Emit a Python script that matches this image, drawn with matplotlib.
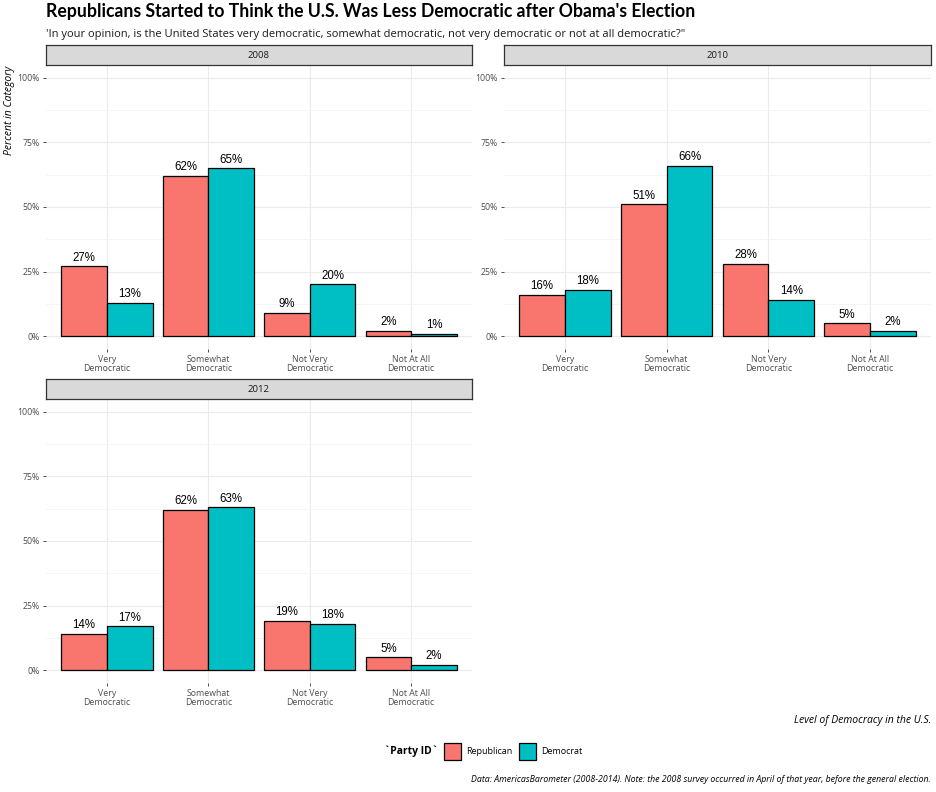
import matplotlib
matplotlib.use("Agg")
import matplotlib.pyplot as plt
from matplotlib.patches import Rectangle
from matplotlib import font_manager
import numpy as np

categories = ["Very\nDemocratic", "Somewhat\nDemocratic", "Not Very\nDemocratic", "Not At All\nDemocratic"]
years = ["2008", "2010", "2012"]
republican = {"2008": [27, 62, 9, 2], "2010": [16, 51, 28, 5], "2012": [14, 62, 19, 5]}
democrat = {"2008": [13, 65, 20, 1], "2010": [18, 66, 14, 2], "2012": [17, 63, 18, 2]}
yticks = [0, 25, 50, 75, 100]
ytick_labels = ["0%", "25%", "50%", "75%", "100%"]

RED = "#F8766D"
CYAN = "#00BFC4"
W, H = 936, 792
fig = plt.figure(figsize=(W / 100, H / 100), dpi=100)
SANS = "Open Sans"

# bar-label font: Liberation Sans Regular (Arial metrics)
lab_fp = None
for f in font_manager.findSystemFonts():
    if f.endswith("LiberationSans-Regular.ttf"):
        lab_fp = font_manager.FontProperties(fname=f, size=8.3)
        break
if lab_fp is None:
    lab_fp = font_manager.FontProperties(family="Liberation Sans", size=8.3)

def fx(px):
    return px / W

def fy(py):
    return 1 - py / H

panels = {
    "2008": (46, 472, 65, 349),
    "2010": (504, 931, 65, 349),
    "2012": (46, 472, 399, 683),
}

for yr in years:
    l, r, t, b = panels[yr]
    ax = fig.add_axes([fx(l), fy(b), fx(r - l), (b - t) / H])
    x = np.arange(len(categories))
    w = 0.45
    ax.bar(x - w / 2, republican[yr], width=w, color=RED, edgecolor="black", linewidth=0.9, zorder=3)
    ax.bar(x + w / 2, democrat[yr], width=w, color=CYAN, edgecolor="black", linewidth=0.9, zorder=3)
    for xi, v in zip(x - w / 2, republican[yr]):
        ax.text(xi, v + 1.0, f"{v}%", ha="center", va="bottom", fontproperties=lab_fp,
                color="black", zorder=4)
    for xi, v in zip(x + w / 2, democrat[yr]):
        ax.text(xi, v + 1.0, f"{v}%", ha="center", va="bottom", fontproperties=lab_fp,
                color="black", zorder=4)
    ax.set_xlim(-0.6, len(categories) - 0.4)
    ax.set_ylim(-5, 105)
    ax.set_xticks(x)
    ax.set_xticklabels(categories, fontsize=6.3, family=SANS, color="#4d4d4d", linespacing=0.95)
    ax.set_yticks(yticks)
    ax.set_yticklabels(ytick_labels, fontsize=6.3, family=SANS, color="#4d4d4d")
    ax.set_yticks([12.5, 37.5, 62.5, 87.5], minor=True)
    ax.tick_params(axis="both", which="major", length=2.5, width=0.6, color="#333333", pad=2)
    ax.tick_params(axis="both", which="minor", length=0)
    ax.grid(True, which="major", color="#ebebeb", linewidth=0.8, zorder=0)
    ax.grid(True, which="minor", axis="y", color="#f2f2f2", linewidth=0.5, zorder=0)
    for s in ax.spines.values():
        s.set_visible(False)
    ax.set_facecolor("white")
    # strip
    sax = fig.add_axes([fx(l), fy(t), fx(r - l), 20 / H])
    sax.set_xticks([])
    sax.set_yticks([])
    sax.set_facecolor("#d9d9d9")
    for s in sax.spines.values():
        s.set_color("#333333")
        s.set_linewidth(0.9)
    sax.text(0.5, 0.5, yr, ha="center", va="center", fontsize=6.8, family=SANS,
             color="#1a1a1a", transform=sax.transAxes)

fig.text(fx(46), fy(12), "Republicans Started to Think the U.S. Was Less Democratic after Obama's Election",
         fontsize=12.7, fontweight="bold", family="Lato", ha="left", va="center", color="black")
fig.text(fx(46), fy(34), "'In your opinion, is the United States very democratic, somewhat democratic, not very democratic or not at all democratic?\"",
         fontsize=8.0, family=SANS, ha="left", va="center", color="#1a1a1a")
fig.text(fx(10), fy(66), "Percent in Category", rotation=90, fontsize=7.5, family=SANS,
         style="italic", ha="center", va="top", color="black")
fig.text(fx(931), fy(720), "Level of Democracy in the U.S.", fontsize=7.5, family=SANS,
         style="italic", ha="right", va="center", color="black")
fig.text(fx(931), fy(780), "Data: AmericasBarometer (2008-2014). Note: the 2008 survey occurred in April of that year, before the general election.",
         fontsize=6.3, family=SANS, style="italic", ha="right", va="center", color="black")

# legend
fig.text(fx(438), fy(751), "`Party ID`", fontsize=7.5, family=SANS, fontweight="bold",
         ha="right", va="center", color="black")
for px, col, lab in [(444, RED, "Republican"), (519, CYAN, "Democrat")]:
    fig.patches.append(Rectangle((fx(px), fy(760)), fx(17), 17 / H, facecolor=col,
                                 edgecolor="black", linewidth=0.9, transform=fig.transFigure))
    fig.text(fx(px + 22), fy(751), lab, fontsize=6.5, family=SANS, ha="left", va="center", color="black")

fig.savefig("out.png", dpi=100, facecolor="white")
